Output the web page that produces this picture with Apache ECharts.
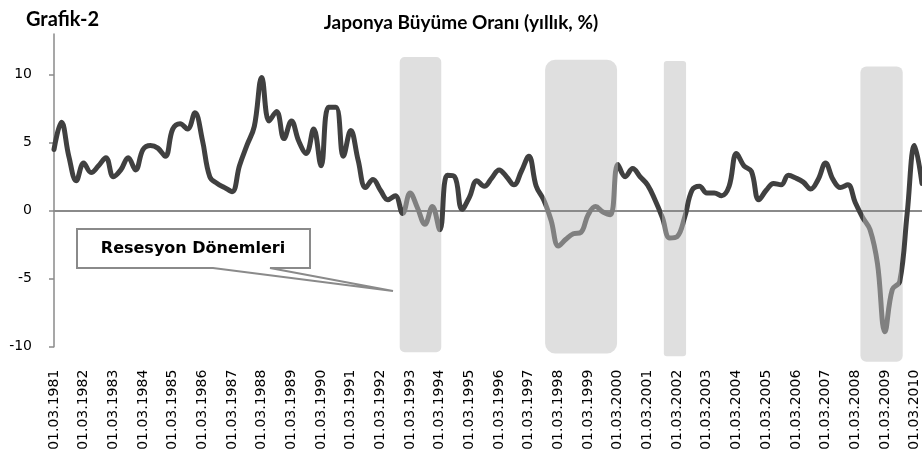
<!DOCTYPE html>
<html><head><meta charset="utf-8">
<script src="https://cdn.jsdelivr.net/npm/echarts@6/dist/echarts.min.js"></script>
<style>html,body{margin:0;padding:0;background:#fff}#c{width:922px;height:459px}</style>
</head><body><div id="c"></div>
<script>
// ---- data ----
const years = [1981,1982,1983,1984,1985,1986,1987,1988,1989,1990,1991,1992,1993,1994,1995,
               1996,1997,1998,1999,2000,2001,2002,2003,2004,2005,2006,2007,2008,2009,2010];
const quarterMonths = ['03','06','09','12'];
const growth = [
  4.5, 6.5, 4.0, 2.2,   3.5, 2.8, 3.3, 3.9,   2.5, 3.0, 3.9, 3.0,   4.5, 4.8, 4.6, 4.0,
  6.0, 6.4, 6.0, 7.2,   5.2, 2.5, 2.0, 1.7,   1.4, 3.3, 4.8, 6.2,   9.8, 6.6, 7.3, 5.3,
  6.6, 5.1, 4.2, 6.0,   3.3, 7.6, 7.6, 4.0,   5.9, 3.7, 1.7, 2.3,   1.5, 0.8, 1.1, -0.2,
  1.3, 0.2, -1.0, 0.3,  -1.4, 2.6, 2.5, 0.1,  1.0, 2.2, 1.8, 2.4,   3.0, 2.5, 1.9, 2.9,
  4.0, 1.8, 0.8, -0.7,  -2.6, -2.1, -1.7, -1.6, -0.3, 0.3, -0.1, -0.3, 3.4, 2.5, 3.1, 2.5,
  1.9, 0.8, -0.5, -2.0, -1.9, -0.5, 1.5, 1.8,  1.3, 1.3, 1.1, 1.8,   4.2, 3.3, 2.9, 0.8,
  1.5, 2.0, 1.9, 2.6,   2.4, 2.1, 1.6, 2.3,   3.5, 2.3, 1.7, 1.9,   0.6, -0.5, -1.4, -3.9,
  -8.9, -5.8, -5.2, -0.2, 4.8, 2.0
];
const yTicks = [-10, -5, 0, 5, 10];
// recession shading (x in quarter index, y in % units)
const recStart  = [46.6, 66.2, 82.2, 108.7];
const recEnd    = [52.2, 75.9, 85.2, 114.4];
const recTop    = [11.3, 11.1, 11.0, 10.6];
const recBottom = [-10.4, -10.5, -10.7, -11.1];
// quarters drawn in the lighter recession colour
const recLineFrom = [47, 66, 82, 109];
const recLineTo   = [52, 76, 85, 114];

// ---- build ----
const categories = [];
years.forEach(y => quarterMonths.forEach(m => categories.push('01.' + m + '.' + y)));
categories.length = growth.length;
const recRadius = [5, 10, 3, 6];

const chart = echarts.init(document.getElementById('c'), null, {renderer: 'canvas'});
const axisFont = 'DejaVu Sans';
chart.setOption({
  animation: false,
  backgroundColor: '#ffffff',
  title: [
    {text: 'Grafik-2', left: 21, top: 5,
     textStyle: {fontFamily: 'Lato', fontWeight: 'bold', fontSize: 20, color: '#000'}},
    {text: 'Japonya Büyüme Oranı (yıllık, %)', left: 'center', top: 8,
     textStyle: {fontFamily: 'Lato', fontWeight: 'bold', fontSize: 19, color: '#000'}}
  ],
  grid: {left: 54, right: 0, top: 33.9, bottom: 112.3, containLabel: false},
  xAxis: [
    {type: 'category', data: categories, boundaryGap: false, position: 'bottom',
     axisLine: {show: false, onZero: false}, axisTick: {show: false},
     axisLabel: {interval: 3, rotate: 90, margin: 23, fontFamily: axisFont, fontSize: 14, color: '#000'},
     splitLine: {show: false}},
    {type: 'category', data: categories, boundaryGap: false, position: 'top', z: 2,
     axisLine: {show: true, onZero: true, lineStyle: {color: '#8a8a8a', width: 2}},
     axisTick: {show: false}, axisLabel: {show: false}, splitLine: {show: false}},
    {type: 'value', min: 0, max: growth.length - 1, show: false, splitLine: {show: false}}
  ],
  yAxis: {
    type: 'value', min: -10, max: 13,
    axisLine: {show: true, lineStyle: {color: '#8a8a8a', width: 1.5}},
    axisTick: {show: true, length: 5, customValues: yTicks, lineStyle: {color: '#8a8a8a', width: 1.5}},
    axisLabel: {customValues: yTicks, margin: 22, fontFamily: axisFont, fontSize: 14, color: '#000'},
    splitLine: {show: false}
  },
  visualMap: {
    show: false, type: 'piecewise', dimension: 0, seriesIndex: 1,
    pieces: recLineFrom.map((f, k) => ({gte: f, lte: recLineTo[k], color: '#808080'})),
    outOfRange: {color: '#404040'}
  },
  series: [
    {type: 'custom', xAxisIndex: 2, yAxisIndex: 0, z: 1, clip: false, silent: true,
     data: recStart.map((s, k) => [s, recEnd[k], recTop[k], recBottom[k]]),
     renderItem: (params, api) => {
       const p1 = api.coord([api.value(0), api.value(2)]);
       const p2 = api.coord([api.value(1), api.value(3)]);
       return {type: 'rect',
         shape: {x: p1[0], y: p1[1], width: p2[0] - p1[0], height: p2[1] - p1[1], r: recRadius[params.dataIndex]},
         style: {fill: '#dfdfdf'}};
     }},
    {type: 'line', xAxisIndex: 0, yAxisIndex: 0, z: 3, data: growth,
     smooth: 0.4, symbol: 'none', showSymbol: false,
     lineStyle: {width: 5, cap: 'round', join: 'round'}}
  ],
  graphic: [
    {type: 'polygon', z: 10,
     shape: {points: [[77, 229], [310, 229], [310, 268], [270, 268], [393, 291], [213, 268], [77, 268]]},
     style: {fill: '#ffffff', stroke: '#8a8a8a', lineWidth: 2}},
    {type: 'text', z: 11, x: 193, y: 249,
     style: {text: 'Resesyon Dönemleri', fontFamily: 'DejaVu Sans', fontWeight: 'bold', fontSize: 16,
             fill: '#000', align: 'center', verticalAlign: 'middle'}}
  ]
});
</script></body></html>
